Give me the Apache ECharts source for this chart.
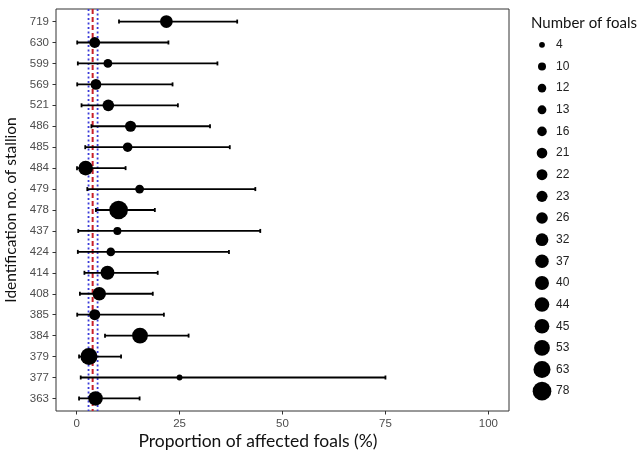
<!DOCTYPE html>
<html>
<head>
<meta charset="utf-8">
<script src="https://cdn.jsdelivr.net/npm/echarts@6/dist/echarts.min.js"></script>
<style>html,body{margin:0;padding:0;background:#fff}#c{width:638px;height:454px}</style>
</head>
<body>
<div id="c"></div>
<script>
const stallions = ['363','377','379','384','385','408','414','424','437','478','479','484','485','486','521','569','599','630','719'];
const foals = [44,4,63,53,23,37,40,12,10,78,13,45,16,23,26,21,13,22,32];
const proportion = [4.6,25.0,3.0,15.4,4.4,5.5,7.5,8.3,9.9,10.2,15.3,2.2,12.4,13.1,7.7,4.7,7.6,4.4,21.8];
const lowerCI = [0.6,1.0,0.6,6.9,0.15,0.8,1.9,0.3,0.4,4.7,2.6,0.1,2.1,3.6,1.2,0.15,0.3,0.15,10.3];
const upperCI = [15.3,75.0,10.8,27.2,21.2,18.5,19.7,37.0,44.6,19.0,43.4,11.9,37.2,32.4,24.6,23.3,34.2,22.3,39.0];
const legendFoals = [4,10,12,13,16,21,22,23,26,32,37,40,44,45,53,63,78];
const overallMean = 3.9;
const overallCI = [2.9, 5.1];
const xTicks = [0,25,50,75,100];

function diam(n){
  const a = Math.sqrt(4), b = Math.sqrt(78);
  return 5.8 + (Math.sqrt(n)-a)/(b-a)*12.9;
}

const chart = echarts.init(document.getElementById('c'), null, {renderer:'canvas'});
const tickFont = {color:'#4d4d4d', fontSize:11.5, fontFamily:'Liberation Sans, Arial, sans-serif'};
const titleFont = {fontFamily:'Lato', fontWeight:'normal', color:'#111'};

chart.setOption({
  animation:false,
  backgroundColor:'#fff',
  title:[
    {text:'Number of foals', left:531, top:16, padding:0, textStyle:Object.assign({fontSize:15}, titleFont)},
    {text:'Proportion of affected foals (%)', left:258, top:432, padding:0, textAlign:'center', textStyle:Object.assign({fontSize:17.5}, titleFont)}
  ],
  grid:[
    {left:56, right:129, top:9, bottom:43, show:true, borderColor:'#333', borderWidth:1, backgroundColor:'#fff', containLabel:false, outerBoundsMode:'none'},
    {left:531, width:22, top:34, bottom:52, show:false, containLabel:false, outerBoundsMode:'none'}
  ],
  xAxis:[
    {type:'value', gridIndex:0, min:-5, max:105,
     axisLine:{show:false, onZero:false}, splitLine:{show:false},
     axisTick:{show:true, length:3.5, lineStyle:{color:'#333'}, customValues:xTicks},
     axisLabel:Object.assign({margin:7, customValues:xTicks}, tickFont)},
    {type:'value', gridIndex:1, min:0, max:1, show:false}
  ],
  yAxis:[
    {type:'value', gridIndex:0, min:-0.6, max:18.6,
     name:'Identification no. of stallion', nameLocation:'middle', nameGap:31,
     nameTextStyle:Object.assign({fontSize:15.5}, titleFont),
     axisLine:{show:false, onZero:false}, splitLine:{show:false},
     axisTick:{show:true, length:3.5, lineStyle:{color:'#333'}, customValues:stallions.map((s,i)=>i)},
     axisLabel:Object.assign({margin:7, customValues:stallions.map((s,i)=>i), formatter:v=>stallions[Math.round(v)]}, tickFont)},
    {type:'value', gridIndex:1, min:-0.5, max:16.5, inverse:true, show:false}
  ],
  series:[
    {type:'custom', xAxisIndex:0, yAxisIndex:0, z:1, silent:true,
     data:[[overallCI[0], 0], [overallCI[1], 0], [overallMean, 1]],
     renderItem:function(params, api){
       const v = api.value(0);
       const top = api.coord([v, 18.6]);
       const bot = api.coord([v, -0.6]);
       const isMean = api.value(1) === 1;
       return {type:'line', shape:{x1:top[0], y1:top[1], x2:bot[0], y2:bot[1]},
         style:isMean ? {stroke:'#c8202a', lineWidth:2, lineDash:[5,3]}
                      : {stroke:'#3b3bd9', lineWidth:1.8, lineDash:[2,2.5]}};
     }},
    {type:'custom', xAxisIndex:0, yAxisIndex:0, z:2, silent:true,
     data:stallions.map((s,i)=>[lowerCI[i], upperCI[i], i]),
     renderItem:function(params, api){
       const p0 = api.coord([api.value(0), api.value(2)]);
       const p1 = api.coord([api.value(1), api.value(2)]);
       const h = 2;
       const st = {stroke:'#000', lineWidth:1.8};
       return {type:'group', children:[
         {type:'line', shape:{x1:p0[0], y1:p0[1], x2:p1[0], y2:p1[1]}, style:st},
         {type:'line', shape:{x1:p0[0], y1:p0[1]-h, x2:p0[0], y2:p0[1]+h}, style:st},
         {type:'line', shape:{x1:p1[0], y1:p1[1]-h, x2:p1[0], y2:p1[1]+h}, style:st}
       ]};
     }},
    {type:'scatter', xAxisIndex:0, yAxisIndex:0, z:3, silent:true,
     data:stallions.map((s,i)=>[proportion[i], i, foals[i]]),
     symbol:'circle', symbolSize:function(v){return diam(v[2]);},
     itemStyle:{color:'#000', opacity:1}},
    {type:'custom', xAxisIndex:1, yAxisIndex:1, z:3, silent:true,
     data:legendFoals.map((n,k)=>[0.5, k, n]),
     renderItem:function(params, api){
       const c = api.coord([api.value(0), api.value(1)]);
       const n = api.value(2);
       return {type:'group', children:[
         {type:'circle', shape:{cx:c[0], cy:c[1], r:diam(n)/2}, style:{fill:'#000'}},
         {type:'text', x:c[0]+14, y:c[1], style:{text:String(n), fill:'#222', font:'12px "Liberation Sans", Arial, sans-serif', textVerticalAlign:'middle', textAlign:'left'}}
       ]};
     }}
  ]
});
</script>
</body>
</html>
